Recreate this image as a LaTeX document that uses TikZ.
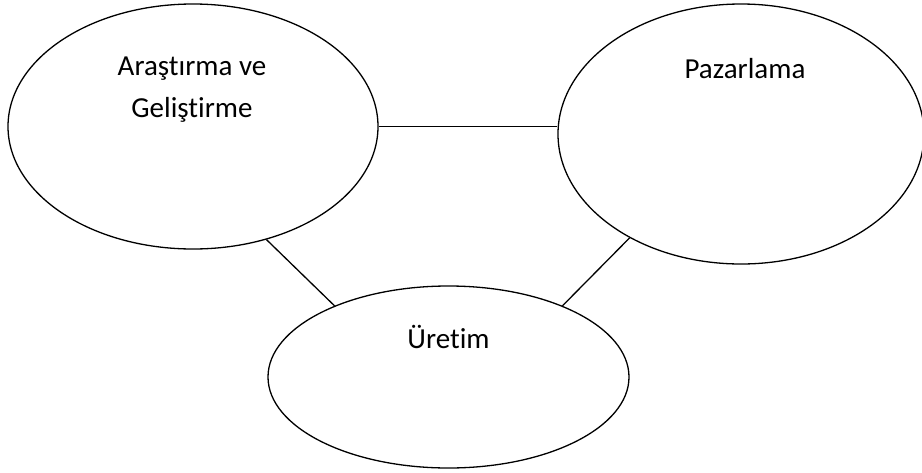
\documentclass[tikz,border=0pt]{standalone}
\usepackage{fontspec}
\setmainfont{Carlito}[Ligatures=NoCommon]
\usetikzlibrary{shapes.geometric}
\begin{document}
\begin{tikzpicture}[x=1pt,y=-1pt,
  blob/.style={draw=black,line width=1.3pt,ellipse,inner sep=0pt,fill=white},
  lbl/.style={font=\fontsize{29}{42}\selectfont,inner sep=0pt,anchor=base,align=center},
  link/.style={draw=black,line width=1.3pt}]
  \fill[white] (0,0) rectangle (922,472);
  \useasboundingbox (0,0) rectangle (922,472);

  % the three departments
  \node[blob,minimum width=370pt,minimum height=245pt] (arge) at (193,126.5) {};
  \node[blob,minimum width=366pt,minimum height=260pt] (paz) at (741,134) {};
  \node[blob,minimum width=361pt,minimum height=182pt] (ure) at (448.5,377) {};

  % department names (a two-line node sits on the baseline of its last line)
  \node[lbl] (argeT) at (192,117) {Araştırma ve\\Geliştirme};
  \node[lbl] (pazT) at (745,78) {Pazarlama};
  \node[lbl] (ureT) at (448.5,348) {Üretim};

  % links between the departments
  \draw[link] (arge.east) -- (arge.east -| paz.west);
  \draw[link] (arge.-57.6) -- (ure.148.1);
  \draw[link] (paz.223.4) -- (ure.32.4);
\end{tikzpicture}
\end{document}
